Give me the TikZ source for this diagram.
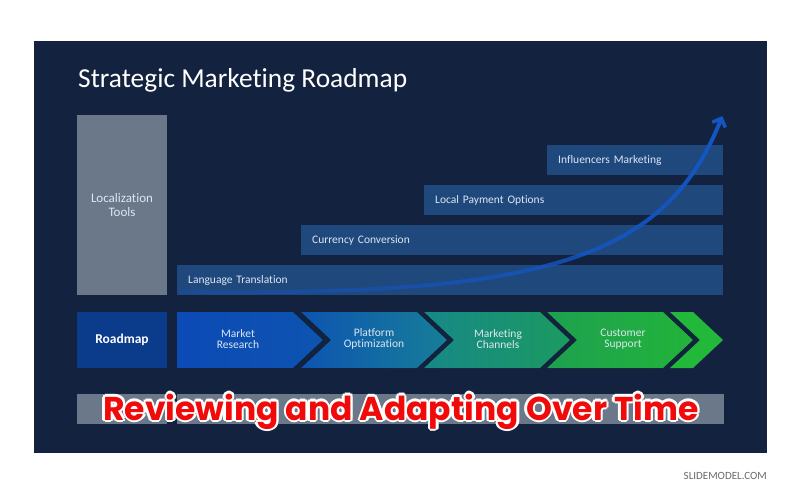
\documentclass[tikz,border=0pt]{standalone}
\usepackage{fontspec}
\setmainfont{Carlito}[Ligatures=NoCommon]
\newfontfamily\stampfont{Poppins}
\usetikzlibrary{arrows.meta,fadings}

\definecolor{slidebg}{HTML}{13233F}
\definecolor{barblue}{HTML}{1F487D}
\definecolor{toolgray}{HTML}{6B7889}
\definecolor{mapblue}{HTML}{0B3C8C}
\definecolor{barlabel}{HTML}{DCE6F2}
\definecolor{arrowblue}{HTML}{1456C4}
\definecolor{stampred}{HTML}{F00A0A}
\definecolor{brandgray}{HTML}{6A6A6A}
\definecolor{stepA}{HTML}{0C4AB6}
\definecolor{stepB}{HTML}{0D54B0}
\definecolor{stepC}{HTML}{177E98}
\definecolor{stepD}{HTML}{178888}
\definecolor{stepE}{HTML}{1B9A60}
\definecolor{stepF}{HTML}{1EA050}
\definecolor{stepG}{HTML}{22B43A}
\definecolor{stepH}{HTML}{22B83A}

\tikzfading[name=arrowfade, left color=transparent!70, right color=transparent!0]

\tikzset{
  bar/.style={fill=barblue, text=barlabel, anchor=north west, align=left,
    minimum height=30pt, inner xsep=11pt, font=\fontsize{11.5}{13}\selectfont},
  sidebox/.style={fill=toolgray, text=barlabel, align=center, inner sep=0pt,
    font=\fontsize{13}{14}\selectfont},
  steplabel/.style={text=barlabel, align=center,
    font=\fontsize{11.5}{11.5}\selectfont},
  stampstyle/.style={anchor=base, inner sep=0pt,
    font=\stampfont\bfseries\fontsize{33}{36}\selectfont}
}

\begin{document}
\begin{tikzpicture}[x=1pt,y=-1pt]
    \useasboundingbox (0,0) rectangle (800,495);
    \fill[white] (0,0) rectangle (800,495);
    \fill[slidebg] (34,41) rectangle (767,453);

    \node[anchor=base west, inner sep=0pt, text=white,
      font=\fontsize{27.4}{30}\selectfont] (title) at (78,88) {Strategic Marketing Roadmap};

    \node[sidebox, minimum width=90pt, minimum height=180pt] (tools) at (122,205) {Localization\\Tools};

    \foreach \name/\x/\y/\txt in {lang/177/265/Language Translation,
        curr/301/225/Currency Conversion, pay/424/185/Local Payment Options,
        infl/547/145/Influencers Marketing} {
      \pgfmathsetmacro\w{723-\x-22}
      \node[bar, text width=\w pt] (\name) at (\x,\y) {\txt};
    }

    \draw[arrowblue, line width=4pt, path fading=arrowfade,
      -{Straight Barb[length=7pt,width=14pt,line width=3.5pt]}]
      (180,292) .. controls (540,296) and (665,262) .. (723,116);

    \node[sidebox, fill=mapblue, text=white, minimum width=90pt, minimum height=56pt,
      font=\bfseries\fontsize{13.5}{15}\selectfont] (roadmap) at (122,340) {Roadmap};

    \fill[left color=stepA, right color=stepB]
      (177,312) -- (293,312) -- (323,340) -- (293,368) -- (177,368) -- cycle;
    \foreach \l/\cl/\cr in {301/stepB/stepC, 424/stepD/stepE, 547/stepF/stepG}
      \fill[left color=\cl, right color=\cr]
        (\l,312) -- ++(116,0) -- ++(30,28) -- ++(-30,28) -- ++(-116,0) -- ++(30,-28) -- cycle;
    \fill[stepH]
      (670,312) -- (693,312) -- (723,340) -- (693,368) -- (670,368) -- (700,340) -- cycle;

    \node[steplabel] (research) at (238,339) {Market\\Research};
    \node[steplabel] (platform) at (374,339) {Platform\\Optimization};
    \node[steplabel] (channels) at (498,339) {Marketing\\Channels};
    \node[steplabel] (support) at (623,339) {Customer\\Support};

    \node[sidebox, minimum width=90pt, minimum height=30pt] (review) at (122,409) {};
    \node[sidebox, anchor=north west, minimum width=547pt, minimum height=30pt] (adapt) at (177,394) {};

    \foreach \a in {0,45,...,315}
      \node[stampstyle, text=white] (stamp\a) at (401,420) [shift={(\a:2.5)}] {Reviewing and Adapting Over Time};
    \node[stampstyle, text=stampred] (stamp) at (401,420) {Reviewing and Adapting Over Time};

    \node[anchor=base east, inner sep=0pt, text=brandgray,
      font=\fontsize{11}{12}\selectfont] (brand) at (767,479) {SLIDEMODEL.COM};
\end{tikzpicture}
\end{document}
